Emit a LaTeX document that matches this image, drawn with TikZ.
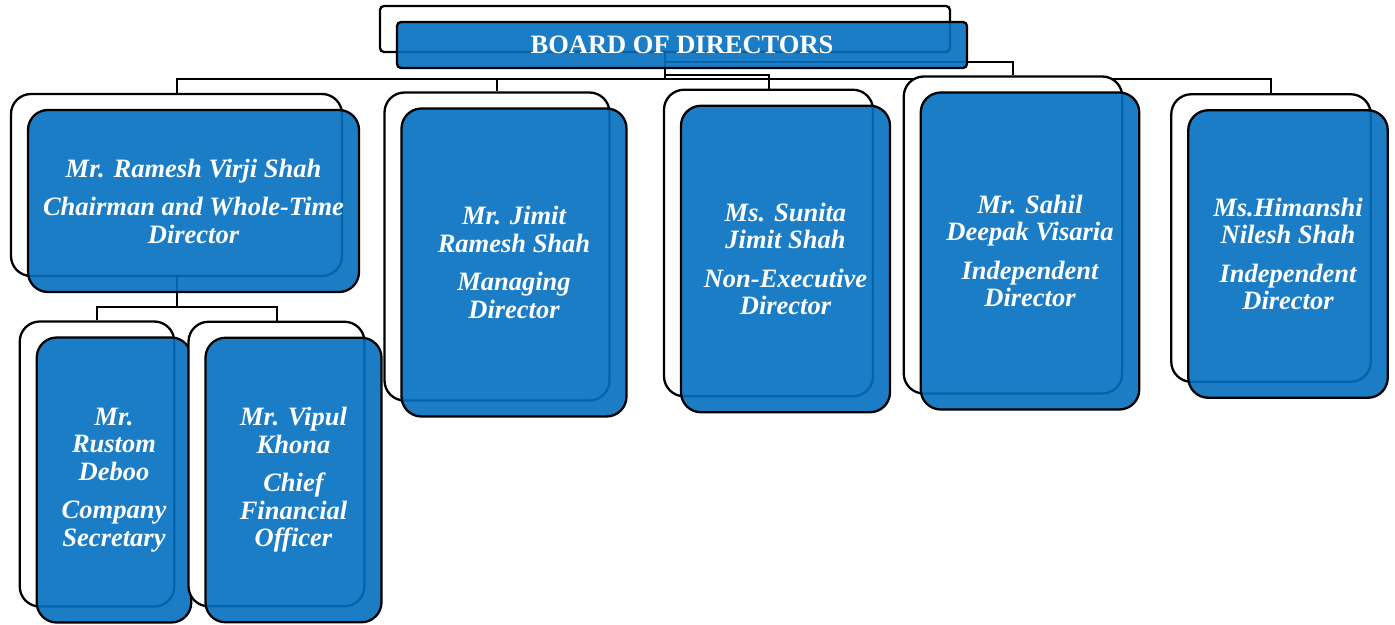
\documentclass[tikz,border=0pt]{standalone}
\usepackage{fontspec}
\setmainfont{Liberation Serif}
\usetikzlibrary{backgrounds}

\definecolor{cardblue}{RGB}{3,111,191}

\tikzset{
  backcard/.style={draw=black, line width=2.3pt, fill=white, rounded corners=20pt, inner sep=0pt},
  card/.style={draw=black, line width=2.3pt, fill=cardblue, fill opacity=0.9, text opacity=1,
    rounded corners=20pt, text=white, align=center, inner sep=0pt,
    font=\fontsize{26.5}{27.5}\selectfont\bfseries\itshape},
  wire/.style={draw=black, line width=2pt},
}

\newcommand{\orgcard}[7][]{%
  \node[backcard, minimum width=#5pt, minimum height=#6pt, #1] (#2-back) at (#3,#4) {};
  \node[card, minimum width=#5pt, minimum height=#6pt, #1] (#2) at (#3+17,#4+16) {#7};
}

\begin{document}
\begin{tikzpicture}[x=1pt, y=-1pt]
  \useasboundingbox (0,0) rectangle (1395,624);

  \orgcard[rounded corners=4pt, font=\fontsize{26.5}{27.5}\selectfont\bfseries]{board}{665}{29}{570}{46}{BOARD OF DIRECTORS}
  \orgcard{chair}{176.5}{185}{331}{182}{Mr. Ramesh Virji Shah\\[11pt]Chairman and Whole-Time\\Director}
  \orgcard{jimit}{497}{246.5}{225}{308}{Mr. Jimit\\Ramesh Shah\\[11pt]Managing\\Director}
  \orgcard{sunita}{768.5}{243}{209}{306.5}{Ms. Sunita\\Jimit Shah\\[11pt]Non-Executive\\Director}
  \orgcard{sahil}{1013}{235}{218.5}{317}{Mr. Sahil\\Deepak Visaria\\[11pt]Independent\\Director}
  \orgcard{himanshi}{1271}{238}{199.5}{287.5}{Ms.Himanshi\\Nilesh Shah\\[11pt]Independent\\Director}
  \orgcard{rustom}{97}{464}{154.5}{285}{Mr.\\Rustom\\Deboo\\[11pt]Company\\Secretary}
  \orgcard{vipul}{276.5}{464}{176}{284.5}{Mr. Vipul\\Khona\\[11pt]Chief\\Financial\\Officer}

  \begin{scope}[on background layer]
    \foreach \kid/\lvl in {chair/79, jimit/79, sunita/75, sahil/62, himanshi/79}
      \draw[wire] (board-back.south) -- (board-back.south |- 0,\lvl) -| (\kid-back.north);
    \foreach \kid in {rustom, vipul}
      \draw[wire] (chair-back.south) -- (chair-back.south |- 0,307) -| (\kid-back.north);
  \end{scope}
\end{tikzpicture}
\end{document}
